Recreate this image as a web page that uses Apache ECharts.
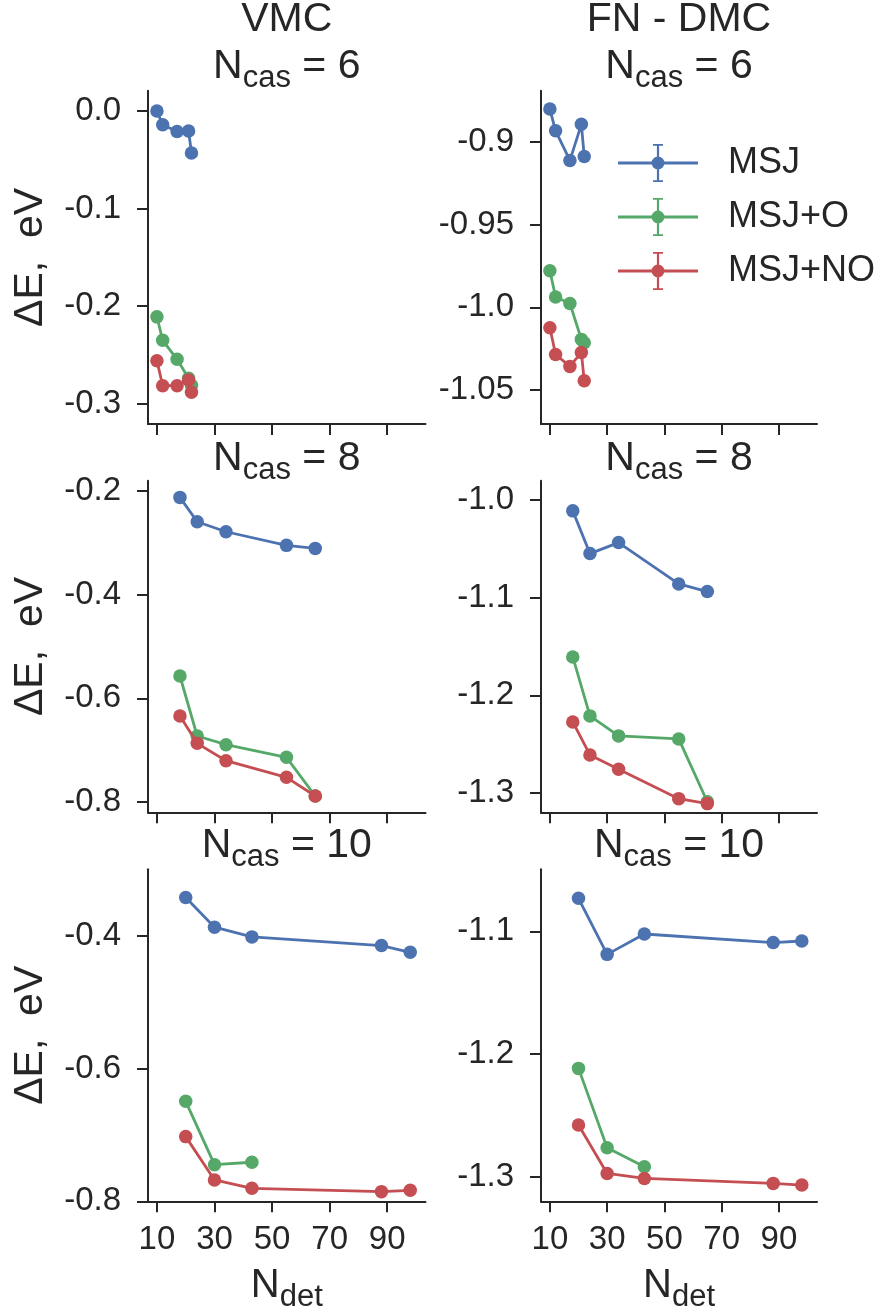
<!DOCTYPE html>
<html><head><meta charset="utf-8">
<script src="https://cdn.jsdelivr.net/npm/echarts@6/dist/echarts.min.js"></script>
<style>html,body{margin:0;padding:0;background:#fff}#c{width:889px;height:1314px}</style>
</head><body><div id="c"></div>
<script>
// ---------- data ----------
const xTicks = [10, 30, 50, 70, 90];
const nDet6 = [10, 12, 17, 21, 22];
const nDet8 = [18, 24, 34, 55, 65];
const nDet10 = [20, 30, 43, 88, 98];
const nDet10O = [20, 30, 43];

const vmc6MSJ = [0.000, -0.014, -0.021, -0.0205, -0.043];
const vmc6O   = [-0.211, -0.235, -0.2545, -0.274, -0.281];
const vmc6NO  = [-0.256, -0.2815, -0.2815, -0.2757, -0.2883];

const dmc6MSJ = [-0.8803, -0.8934, -0.9113, -0.8895, -0.9089];
const dmc6O   = [-0.9779, -0.9938, -0.9977, -1.0194, -1.0214];
const dmc6NO  = [-1.0124, -1.0285, -1.0357, -1.0273, -1.0444];

const vmc8MSJ = [-0.2122, -0.2592, -0.2785, -0.3048, -0.3106];
const vmc8O   = [-0.5569, -0.6727, -0.6894, -0.7138, -0.7884];
const vmc8NO  = [-0.6341, -0.6868, -0.7203, -0.7524, -0.7884];

const dmc8MSJ = [-1.0109, -1.0547, -1.0434, -1.0858, -1.0936];
const dmc8O   = [-1.1606, -1.2210, -1.2415, -1.2446, -1.3090];
const dmc8NO  = [-1.2272, -1.2610, -1.2757, -1.3058, -1.3109];

const vmc10MSJ = [-0.3416, -0.3864, -0.4010, -0.4141, -0.4242];
const vmc10O   = [-0.6491, -0.7447, -0.7411];
const vmc10NO  = [-0.7024, -0.7678, -0.7804, -0.7854, -0.7834];

const dmc10MSJ = [-1.0731, -1.1188, -1.1022, -1.1092, -1.1079];
const dmc10O   = [-1.2117, -1.2764, -1.2918];
const dmc10NO  = [-1.2579, -1.2973, -1.3014, -1.3054, -1.3068];

const yTicksVmc6  = [0, -0.1, -0.2, -0.3];
const yTicksDmc6  = [-0.9, -0.95, -1.0, -1.05];
const yTicksVmc8  = [-0.2, -0.4, -0.6, -0.8];
const yTicksDmc8  = [-1.0, -1.1, -1.2, -1.3];
const yTicksVmc10 = [-0.4, -0.6, -0.8];
const yTicksDmc10 = [-1.1, -1.2, -1.3];

const xRange = [6.9, 103.3];
const yRangeVmc6  = [-0.3208, 0.0208];
const yRangeDmc6  = [-1.0705, -0.8692];
const yRangeVmc8  = [-0.8199, -0.1800];
const yRangeDmc8  = [-1.3198, -0.9800];
const yRangeVmc10 = [-0.8000, -0.2990];
const yRangeDmc10 = [-1.3200, -1.0495];

const seriesNames = ['MSJ', 'MSJ+O', 'MSJ+NO'];
const colTitles = ['VMC', 'FN - DMC'];
const nCas = ['6', '8', '10'];

// ---------- layout ----------
const FONT = "'Liberation Sans', Arial, sans-serif";
const INK = '#262626';
const COLORS = ['#4C72B0', '#55A868', '#C44E52'];
const colLeft = [148, 541];
const colWidth = [277.5, 276];
const rowTop = [90.7, 480.7, 869.3];
const rowHeight = [333.3, 331.6, 332];
const titleTop = [45, 436.5, 823.5];

const panels = [
  { r: 0, c: 0, x: [nDet6, nDet6, nDet6], y: [vmc6MSJ, vmc6O, vmc6NO], ticks: yTicksVmc6, range: yRangeVmc6 },
  { r: 0, c: 1, x: [nDet6, nDet6, nDet6], y: [dmc6MSJ, dmc6O, dmc6NO], ticks: yTicksDmc6, range: yRangeDmc6 },
  { r: 1, c: 0, x: [nDet8, nDet8, nDet8], y: [vmc8MSJ, vmc8O, vmc8NO], ticks: yTicksVmc8, range: yRangeVmc8 },
  { r: 1, c: 1, x: [nDet8, nDet8, nDet8], y: [dmc8MSJ, dmc8O, dmc8NO], ticks: yTicksDmc8, range: yRangeDmc8 },
  { r: 2, c: 0, x: [nDet10, nDet10O, nDet10], y: [vmc10MSJ, vmc10O, vmc10NO], ticks: yTicksVmc10, range: yRangeVmc10 },
  { r: 2, c: 1, x: [nDet10, nDet10O, nDet10], y: [dmc10MSJ, dmc10O, dmc10NO], ticks: yTicksDmc10, range: yRangeDmc10 }
];

function fmt(v) {
  let s = (Math.round(v * 100) / 100).toString();
  if (s.indexOf('.') < 0) s += '.0';
  return s;
}

const grids = [], xAxes = [], yAxes = [], series = [];
panels.forEach((p, i) => {
  grids.push({ left: colLeft[p.c], top: rowTop[p.r], width: colWidth[p.c], height: rowHeight[p.r], containLabel: false });
  const bottomRow = p.r === 2;
  xAxes.push({
    gridIndex: i, type: 'value', min: xRange[0], max: xRange[1],
    axisLine: { show: true, onZero: false, lineStyle: { color: INK, width: 2 } },
    axisTick: { show: true, length: 11, lineStyle: { color: INK, width: 2 }, customValues: xTicks },
    axisLabel: { show: bottomRow, customValues: xTicks, margin: 22, fontSize: 33, lineHeight: 33, color: INK, fontFamily: FONT },
    splitLine: { show: false },
    name: bottomRow ? '{m|N}{s|det}' : '',
    nameLocation: 'middle', nameGap: 63,
    nameTextStyle: {
      fontSize: 40, color: INK, fontFamily: FONT, lineHeight: 44,
      rich: {
        m: { fontSize: 40, lineHeight: 44, color: INK, fontFamily: FONT },
        s: { fontSize: 31, lineHeight: 44, color: INK, fontFamily: FONT, padding: [22, 0, 0, 0] }
      }
    }
  });
  yAxes.push({
    gridIndex: i, type: 'value', min: p.range[0], max: p.range[1],
    axisLine: { show: true, onZero: false, lineStyle: { color: INK, width: 2 } },
    axisTick: { show: true, length: 11, lineStyle: { color: INK, width: 2 }, customValues: p.ticks },
    axisLabel: { show: true, customValues: p.ticks, formatter: fmt, margin: 27, fontSize: 33, color: INK, fontFamily: FONT },
    splitLine: { show: false },
    name: p.c === 0 ? 'ΔE,  eV' : '',
    nameLocation: 'middle', nameRotate: 90, nameGap: 97,
    nameTextStyle: { fontSize: 41, color: INK, fontFamily: FONT }
  });
  for (let k = 0; k < 3; k++) {
    const xs = p.x[k], ys = p.y[k];
    series.push({
      type: 'line', name: seriesNames[k], xAxisIndex: i, yAxisIndex: i,
      data: xs.map((x, j) => [x, ys[j]]),
      symbol: 'circle', symbolSize: 13.5, showSymbol: true, clip: false,
      lineStyle: { width: 2.8, color: COLORS[k] },
      itemStyle: { color: COLORS[k], borderWidth: 0 },
      emphasis: { disabled: true },
      z: 2 + k
    });
  }
});

const titles = [];
colTitles.forEach((t, c) => {
  titles.push({ text: t, left: colLeft[c] + colWidth[c] / 2, top: -2, textAlign: 'center', padding: 0,
    textStyle: { fontSize: 41, fontWeight: 'normal', color: INK, fontFamily: FONT, lineHeight: 44 } });
});
const richTitle = {
  m: { fontSize: 41, lineHeight: 44, color: INK, fontFamily: FONT },
  s: { fontSize: 31, lineHeight: 44, color: INK, fontFamily: FONT, padding: [23, 0, 0, 0] }
};
for (let r = 0; r < 3; r++) {
  for (let c = 0; c < 2; c++) {
    titles.push({ text: '{m|N}{s|cas}{m| = ' + nCas[r] + '}', left: colLeft[c] + colWidth[c] / 2, top: titleTop[r],
      textAlign: 'center', padding: 0,
      textStyle: { fontSize: 41, fontWeight: 'normal', color: INK, fontFamily: FONT, lineHeight: 44, rich: richTitle } });
  }
}

// legend icon: line + marker + error bar (80 x 38 box)
const ICON = 'path://M0 17.5H80V20.5H0Z M38.9 0H41.1V38H38.9Z M35 0H45V1.8H35Z M35 36.2H45V38H35Z M33.5 19A6.5 6.5 0 1 1 46.5 19A6.5 6.5 0 1 1 33.5 19Z';

const option = {
  animation: false,
  backgroundColor: '#ffffff',
  title: titles,
  legend: {
    orient: 'vertical', left: 618, top: 144, padding: 0,
    itemWidth: 80, itemHeight: 38, itemGap: 16,
    icon: ICON,
    itemStyle: { borderWidth: 0 },
    data: seriesNames,
    textStyle: { fontSize: 36, color: INK, fontFamily: FONT, padding: [0, 0, 0, 25] },
    selectedMode: false
  },
  grid: grids, xAxis: xAxes, yAxis: yAxes, series: series
};

const chart = echarts.init(document.getElementById('c'), null, { renderer: 'canvas' });
chart.setOption(option);
</script></body></html>
